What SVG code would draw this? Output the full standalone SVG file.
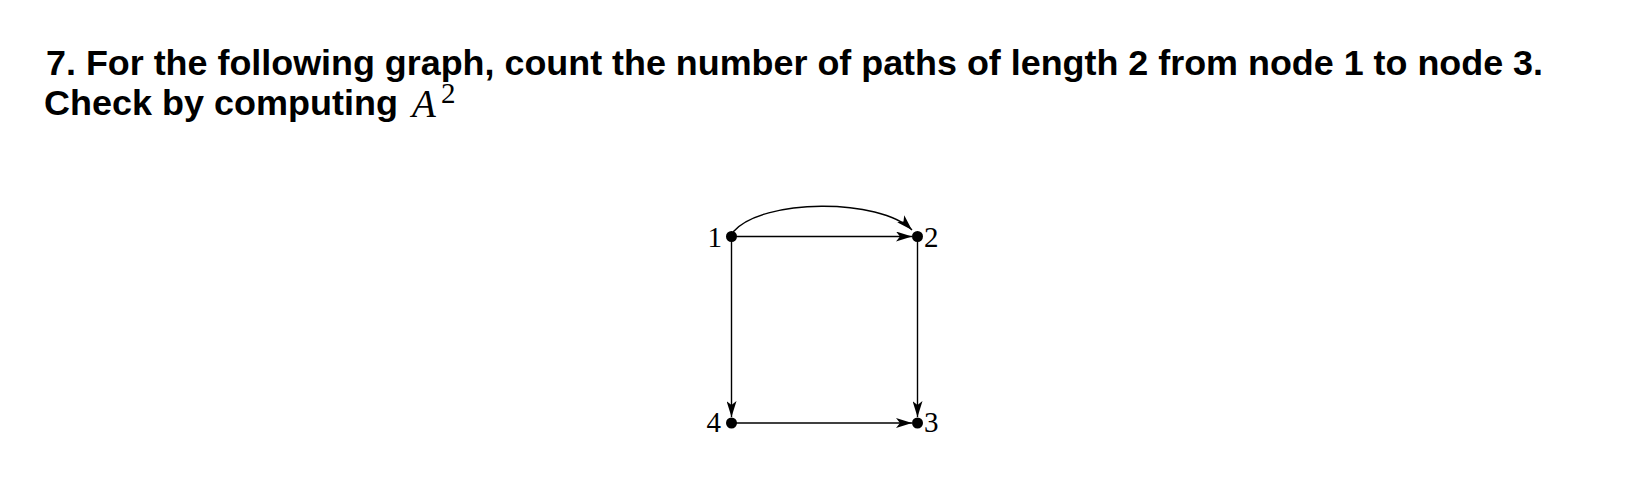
<svg xmlns="http://www.w3.org/2000/svg" width="1626" height="480" viewBox="0 0 1626 480">
<style>
.title{font-family:"Liberation Sans",Arial,sans-serif;font-weight:bold;font-size:35px;fill:#000}
.math{font-family:"Liberation Serif","Times New Roman",serif;fill:#000}
.lbl{font-family:"Liberation Serif","Times New Roman",serif;font-size:29px;fill:#000}
.edge{fill:none;stroke:#000;stroke-width:1.4}
.dot{fill:#000}
</style>
<defs>
<marker id="arr" viewBox="0 0 16 10" refX="16" refY="5" markerWidth="16" markerHeight="10" markerUnits="userSpaceOnUse" orient="auto">
<path d="M0,0 L16,5 L0,10 L4,5 Z" fill="#000"/>
</marker>
</defs>
<g id="title">
<text class="title" x="46" y="75" textLength="1497" lengthAdjust="spacingAndGlyphs">7. For the following graph, count the number of paths of length 2 from node 1 to node 3.</text>
<text class="title" x="44" y="115" textLength="354" lengthAdjust="spacingAndGlyphs">Check by computing</text>
<text class="math" x="412" y="117" font-style="italic" font-size="39">A</text>
<text class="math" x="441" y="103" font-size="29">2</text>
</g>
<g id="connectors">
<path class="edge" d="M733,232 C762,198 880,198 912,230" marker-end="url(#arr)"/>
<path class="edge" d="M731.5,236.5 L912,236.5" marker-end="url(#arr)"/>
<path class="edge" d="M731.5,236.5 L731.5,417" marker-end="url(#arr)"/>
<path class="edge" d="M917.5,236.5 L917.5,417" marker-end="url(#arr)"/>
<path class="edge" d="M731.5,423 L912,423" marker-end="url(#arr)"/>
</g>
<g id="node1"><circle class="dot" cx="731.5" cy="236.5" r="5.5"/><text class="lbl" x="722" y="246.5" text-anchor="end">1</text></g>
<g id="node2"><circle class="dot" cx="917.5" cy="236.5" r="5.5"/><text class="lbl" x="924" y="246.5">2</text></g>
<g id="node3"><circle class="dot" cx="917.5" cy="423" r="5.5"/><text class="lbl" x="924" y="432">3</text></g>
<g id="node4"><circle class="dot" cx="731.5" cy="423" r="5.5"/><text class="lbl" x="721" y="432" text-anchor="end">4</text></g>
</svg>
